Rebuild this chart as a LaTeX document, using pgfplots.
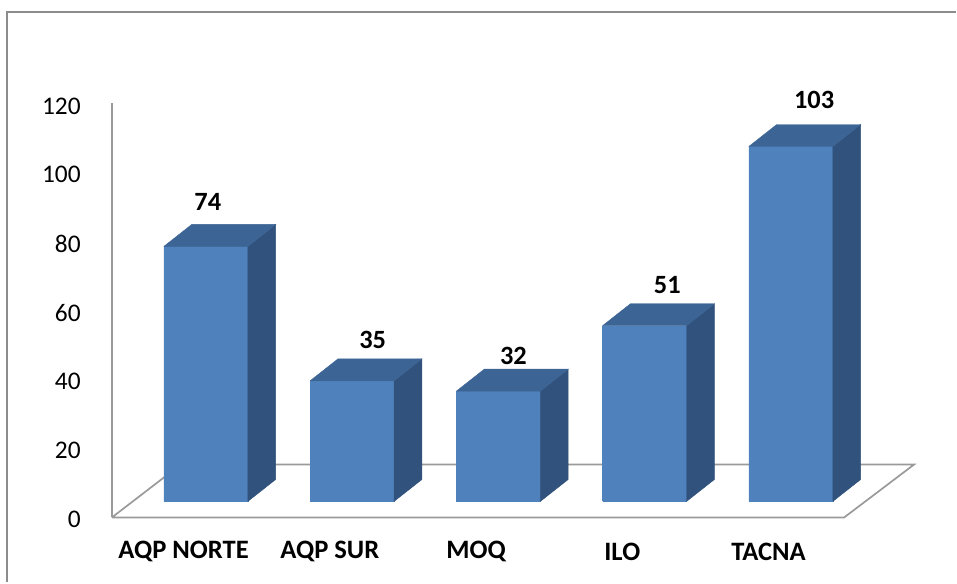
\documentclass[border=0pt]{standalone}
\usepackage{pgfplots}
\pgfplotsset{compat=1.18}
\usepackage{fontspec}
\setmainfont{Carlito}
\definecolor{barfront}{HTML}{4F81BD}
\definecolor{bartop}{HTML}{3C6494}
\definecolor{barside}{HTML}{31527C}
\definecolor{floorgray}{HTML}{9A9A9A}
\definecolor{framegray}{HTML}{8C8C8C}
% bar geometry (axis units): half width, depth offset in x and y
\newcommand{\hw}{0.287}
\newcommand{\dxx}{0.191}
\newcommand{\dyy}{6.38}
% #1 = category position, #2 = value, #3/#4 = label offsets
\newcommand{\threedbar}[4]{%
  \pgfmathsetmacro{\xl}{#1-\hw}%
  \pgfmathsetmacro{\xr}{#1+\hw}%
  \pgfmathsetmacro{\xlb}{#1-\hw+\dxx}%
  \pgfmathsetmacro{\xrb}{#1+\hw+\dxx}%
  \pgfmathsetmacro{\yb}{\dyy}%
  \pgfmathsetmacro{\yt}{#2+\dyy}%
  \edef\tmp{\noexpand\addplot[fill=barfront, draw=barfront, line width=0.2pt] coordinates {(\xl,0) (\xr,0) (\xr,#2) (\xl,#2) (\xl,0)};}\tmp
  \edef\tmp{\noexpand\addplot[fill=barside, draw=barside, line width=0.2pt] coordinates {(\xr,0) (\xrb,\yb) (\xrb,\yt) (\xr,#2) (\xr,0)};}\tmp
  \edef\tmp{\noexpand\addplot[fill=bartop, draw=bartop, line width=0.2pt] coordinates {(\xl,#2) (\xr,#2) (\xrb,\yt) (\xlb,\yt) (\xl,#2)};}\tmp
  \node[font=\fontsize{13.2}{15}\selectfont\bfseries] at (axis cs:#1+#3,#2+#4) {#2};
}
\begin{document}
\begin{tikzpicture}
\begin{axis}[
  scale only axis,
  width=478.5pt, height=291.5pt,
  xmin=-1.4071, xmax=5.1298,
  ymin=-23.478, ymax=145.507,
  hide axis, clip=false,
]
% invisible extent
\path (rel axis cs:0,0) rectangle (rel axis cs:1,1);
% outer frame (left and top)
\draw[framegray, line width=1pt] (axis cs:-1.359,-23.478) -- (axis cs:-1.359,142.03) -- (axis cs:5.1298,142.03);
% floor
\addplot[draw=floorgray, line width=0.85pt, fill=white] coordinates {(-0.642,-4.64) (4.365,-4.64) (4.843,10.72) (-0.171,10.72) (-0.642,-4.64)};
% vertical axis line
\addplot[draw=floorgray, line width=0.85pt] coordinates {(-0.642,-4.64) (-0.642,115.65)};
% tick labels
\pgfplotsinvokeforeach{0,20,40,60,80,100,120}{
  \node[anchor=east, font=\fontsize{12.7}{15}\selectfont] at (axis cs:-0.807,#1-5.22) {#1};
}
% bars
\threedbar{0}{74}{0.014}{12.96}
\threedbar{1}{35}{0.141}{11.96}
\threedbar{2}{32}{0.104}{10.32}
\threedbar{3}{51}{0.156}{11.9}
\threedbar{4}{103}{0.16}{13.5}
% category labels
\node[font=\fontsize{13.3}{15}\selectfont\bfseries] at (axis cs:-0.152,-14.49) {AQP NORTE};
\node[font=\fontsize{13.3}{15}\selectfont\bfseries] at (axis cs:0.848,-14.49) {AQP SUR};
\node[font=\fontsize{13.3}{15}\selectfont\bfseries] at (axis cs:1.848,-14.49) {MOQ};
\node[font=\fontsize{13.3}{15}\selectfont\bfseries] at (axis cs:2.848,-14.49) {ILO};
\node[font=\fontsize{13.3}{15}\selectfont\bfseries] at (axis cs:3.848,-14.49) {TACNA};
\end{axis}
\end{tikzpicture}
\end{document}
